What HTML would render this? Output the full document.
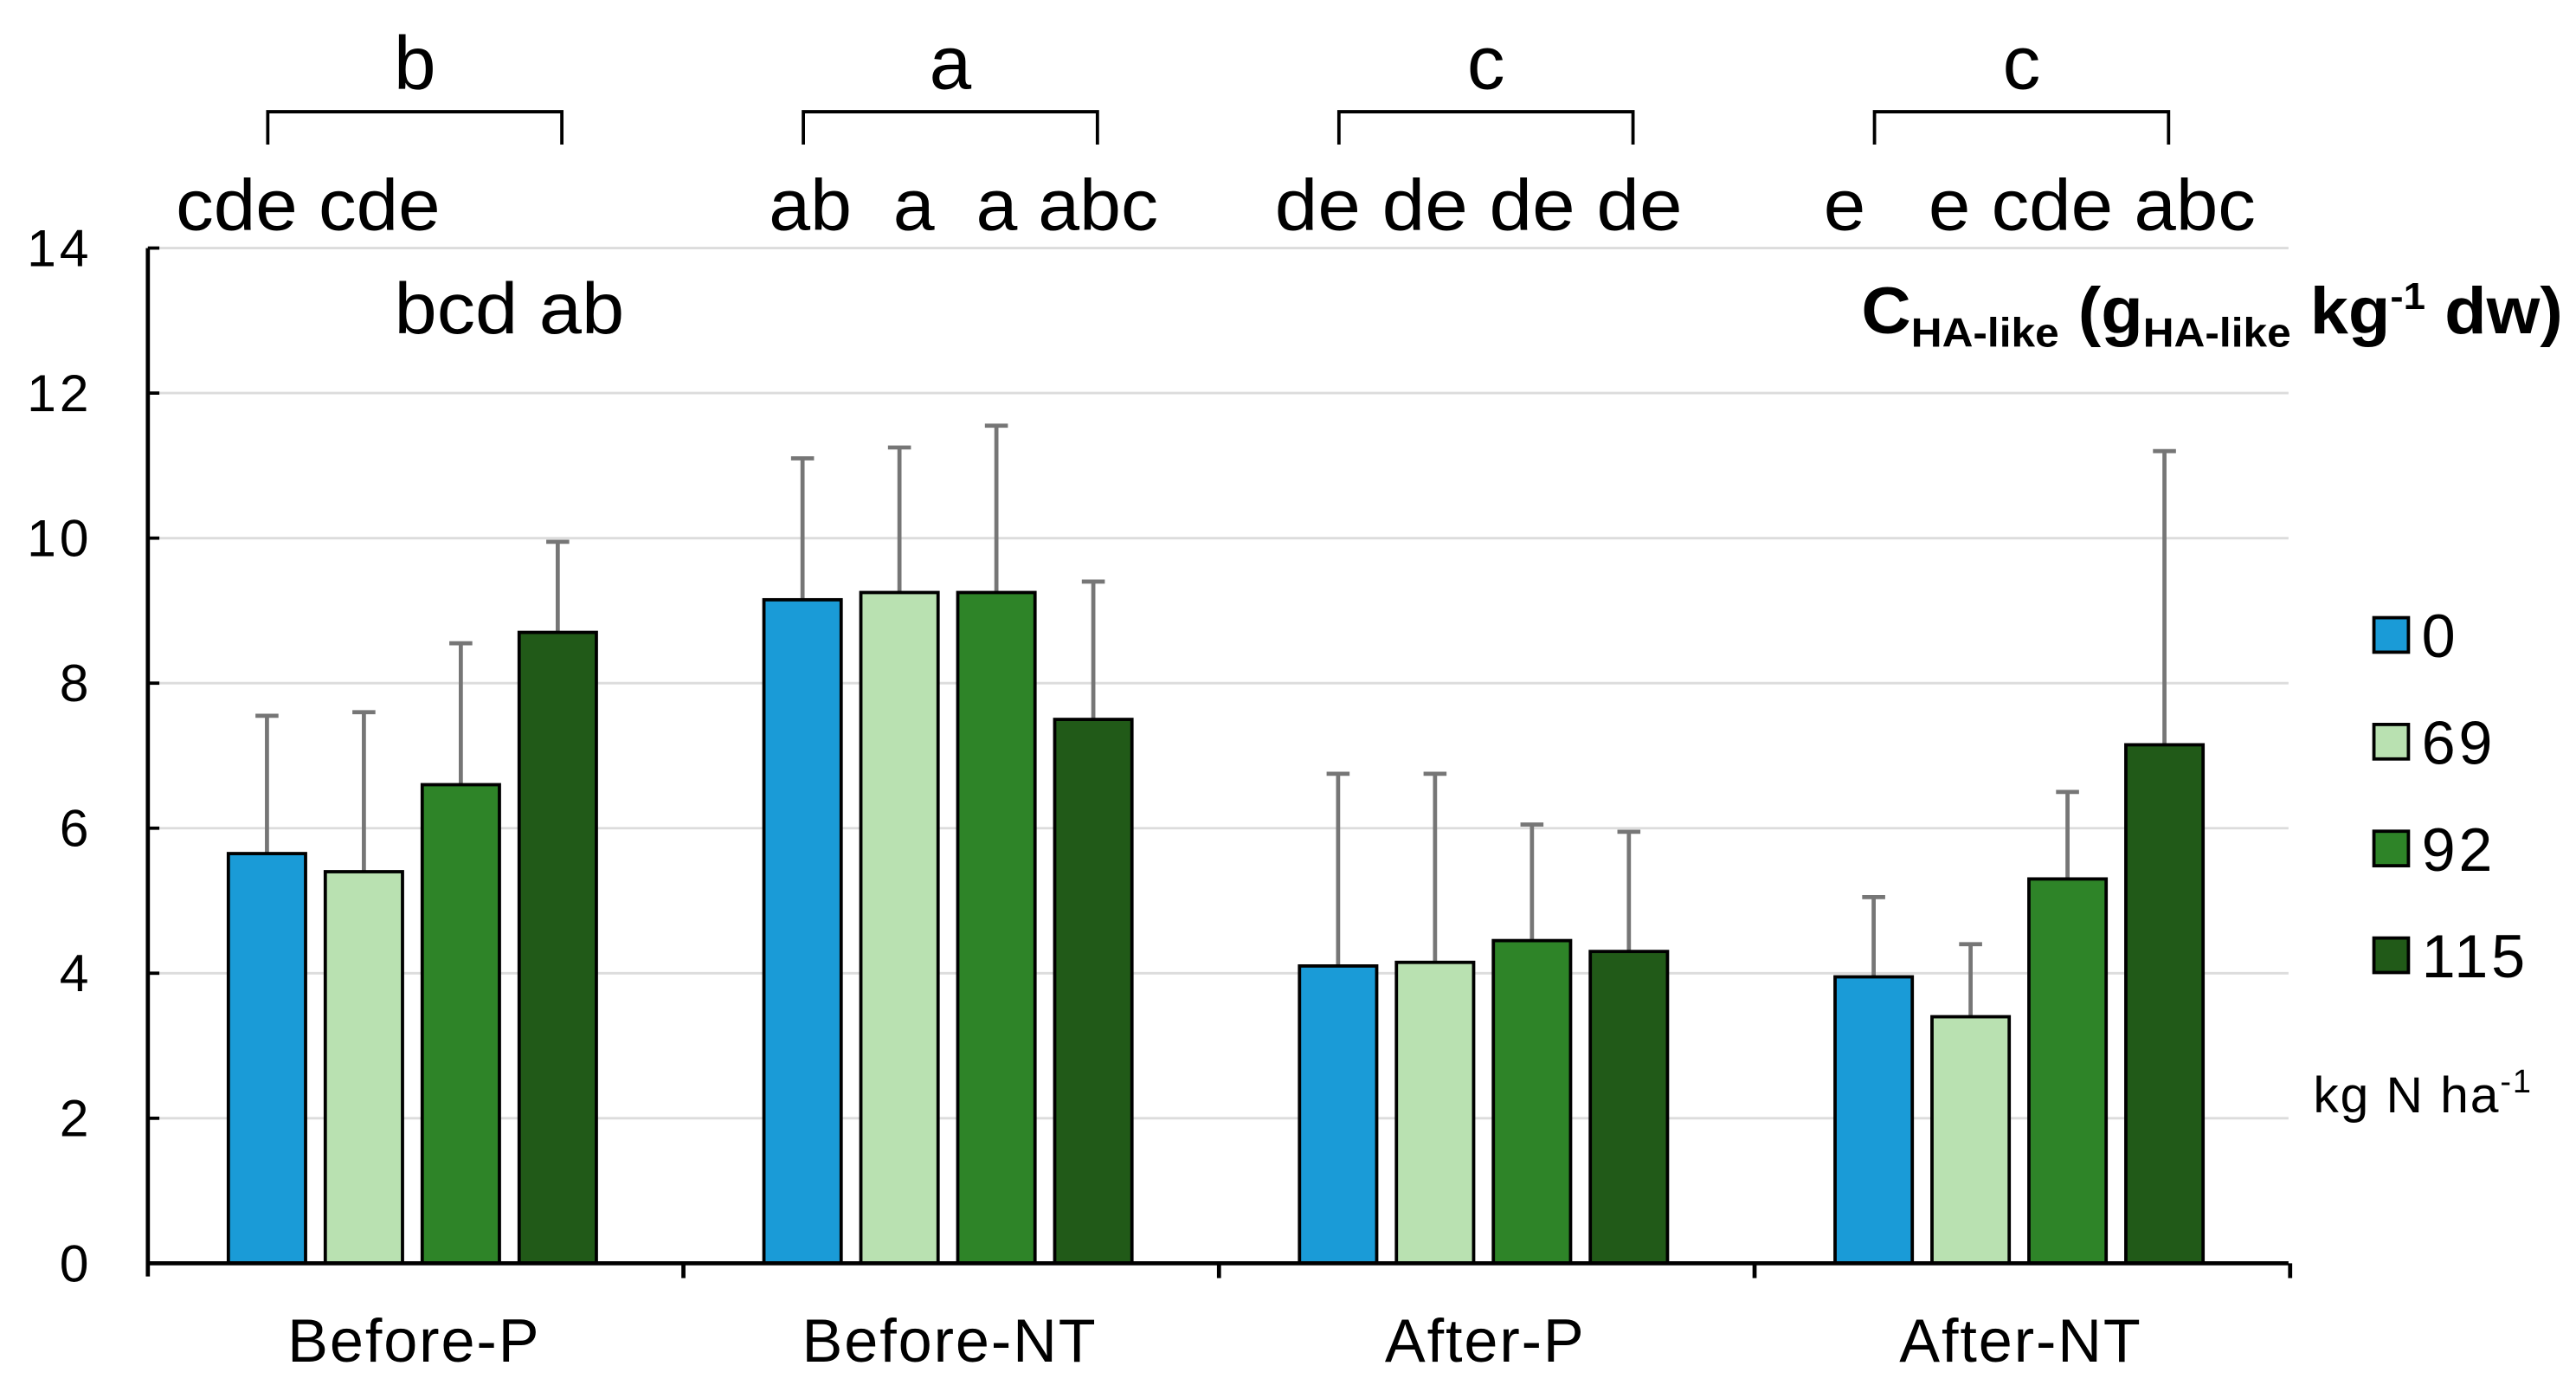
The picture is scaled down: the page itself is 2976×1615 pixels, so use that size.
<!DOCTYPE html>
<html><head><meta charset="utf-8"><style>
html,body{margin:0;padding:0;background:#fff;}
svg{display:block;font-family:"Liberation Sans",sans-serif;}
</style></head><body>
<svg id="chart" width="2976" height="1615" viewBox="0 0 1568 851" preserveAspectRatio="none" xmlns="http://www.w3.org/2000/svg">
<g id="grid"></g>
<g id="bars"></g>
<g id="axes"></g>
<g id="annot"></g>
<text x="1133" y="203" textLength="427" lengthAdjust="spacingAndGlyphs" font-weight="bold" font-size="40">C<tspan font-size="25" dy="8">HA-like</tspan><tspan dy="-8"> (g</tspan><tspan font-size="25" dy="8">HA-like</tspan><tspan dy="-8"> kg</tspan><tspan font-size="23" dy="-15">-1</tspan><tspan dy="15"> dw)</tspan></text>
<g id="legend"></g>
<text x="1408" y="677" font-size="31" letter-spacing="1">kg N ha<tspan font-size="20" dy="-12">-1</tspan></text>
</svg>
<script>
const categories = ["Before-P","Before-NT","After-P","After-NT"];
const seriesNames = ["0","69","92","115"];
const s0 = [5.65, 9.15, 4.1, 3.95];
const s69 = [5.4, 9.25, 4.15, 3.4];
const s92 = [6.6, 9.25, 4.45, 5.3];
const s115 = [8.7, 7.5, 4.3, 7.15];
const e0 = [7.55, 11.1, 6.75, 5.05];
const e69 = [7.6, 11.25, 6.75, 4.4];
const e92 = [8.55, 11.55, 6.05, 6.5];
const e115 = [9.95, 9.4, 5.95, 11.2];
const yTicks = [0,2,4,6,8,10,12,14];
const groupLetters = ["b","a","c","c"];
const barLetters = [["cde","cde","bcd","ab"],["ab","a","a","abc"],["de","de","de","de"],["e","e","cde","abc"]];

const colors = ["#1a9bd7","#b9e1b1","#2e8428","#215a18"];
const NS = "http://www.w3.org/2000/svg";
const X0 = 90, X1 = 1393, GW = 326, Y0 = 769, YT = 151;
const y = v => Y0 - v * (Y0 - YT) / 14;
const barX = (g, i) => X0 + g * GW + 49 + i * 59;
const BW = 47;
function mk(tag, attrs, parent, txt) {
  const e = document.createElementNS(NS, tag);
  for (const k in attrs) e.setAttribute(k, attrs[k]);
  if (txt !== undefined) e.textContent = txt;
  document.getElementById(parent).appendChild(e);
  return e;
}
yTicks.forEach(t => {
  if (t > 0) {
    const l = mk("line", {x1: X0, x2: X1, y1: y(t), y2: y(t), stroke: "#dcdcdc", "stroke-width": 1.5}, "grid");
    
    
  }
  const tk = mk("line", {x1: X0, x2: X0 + 7, y1: y(t), y2: y(t), stroke: "#000", "stroke-width": 2}, "axes");
  
  
  const tl = mk("text", {x: 56, y: y(t) + 11, "text-anchor": "end", "font-size": 32, "letter-spacing": 2}, "axes", String(t));
  
  
});
const series = [s0, s69, s92, s115];
const errs = [e0, e69, e92, e115];
categories.forEach((c, g) => {
  series.forEach((s, i) => {
    const x = barX(g, i);
    const eb = mk("line", {x1: x + BW/2, x2: x + BW/2, y1: y(errs[i][g]), y2: y(s[g]), stroke: "#767676", "stroke-width": 2.5}, "bars");
    
    
    const ec = mk("line", {x1: x + BW/2 - 7, x2: x + BW/2 + 7, y1: y(errs[i][g]), y2: y(errs[i][g]), stroke: "#767676", "stroke-width": 2.5}, "bars");
    
    
    const r = mk("rect", {x: x, y: y(s[g]), width: BW, height: Y0 - y(s[g]), fill: colors[i], stroke: "#000", "stroke-width": 2}, "bars");
    
    
  });
  const gx = X0 + g * GW;
  const cl = mk("text", {x: gx + GW/2 - 1, y: 829, "text-anchor": "middle", "font-size": 37, "letter-spacing": 1}, "axes", c);
  
  
  const bx1 = barX(g, 0) + 24, bx2 = barX(g, 3) + 26;
  const br = mk("path", {d: `M${bx1} 88 V68 H${bx2} V88`, fill: "none", stroke: "#000", "stroke-width": 2}, "annot");
  
  
  const gl = mk("text", {x: (bx1 + bx2) / 2, y: 54, "text-anchor": "middle", "font-size": 46}, "annot", groupLetters[g]);
  
  
});
// per-bar letter rows (placed as in the original figure)
function letterRow(str, x1, x2, yy) {
  const t = mk("text", {x: x1, y: yy, "font-size": 44, textLength: x2 - x1, lengthAdjust: "spacingAndGlyphs"}, "annot", str);
  t.setAttribute("xml:space", "preserve");
  t.style.whiteSpace = "pre";
  
  
}
letterRow(barLetters[0][0] + " " + barLetters[0][1], 107, 268, 140);
letterRow(barLetters[0][2] + " " + barLetters[0][3], 240, 380, 203);
letterRow(barLetters[1][0] + "  " + barLetters[1][1] + "  " + barLetters[1][2] + " " + barLetters[1][3], 468, 705, 140);
letterRow(barLetters[2].join(" "), 776, 1024, 140);
letterRow(barLetters[3][0] + "   " + barLetters[3][1] + " " + barLetters[3][2] + " " + barLetters[3][3], 1110, 1373, 140);
[[X0, YT, X0, Y0 + 8], [X0, Y0, X1, Y0]].forEach(a => {
  const l = mk("line", {x1: a[0], y1: a[1], x2: a[2], y2: a[3], stroke: "#000", "stroke-width": 2.5}, "axes");
  
  
});
for (let g = 1; g <= 4; g++) {
  const t = mk("line", {x1: X0 + g * GW, x2: X0 + g * GW, y1: Y0, y2: Y0 + 9, stroke: "#000", "stroke-width": 2.5}, "axes");
  
  
}
seriesNames.forEach((n, i) => {
  const ly = 376 + i * 65;
  const sw = mk("rect", {x: 1445, y: ly, width: 21, height: 21, fill: colors[i], stroke: "#000", "stroke-width": 2}, "legend");
  
  
  const lt = mk("text", {x: 1474, y: ly + 24, "font-size": 37, "letter-spacing": 2}, "legend", n);
  
  
});
</script>
</body></html>
